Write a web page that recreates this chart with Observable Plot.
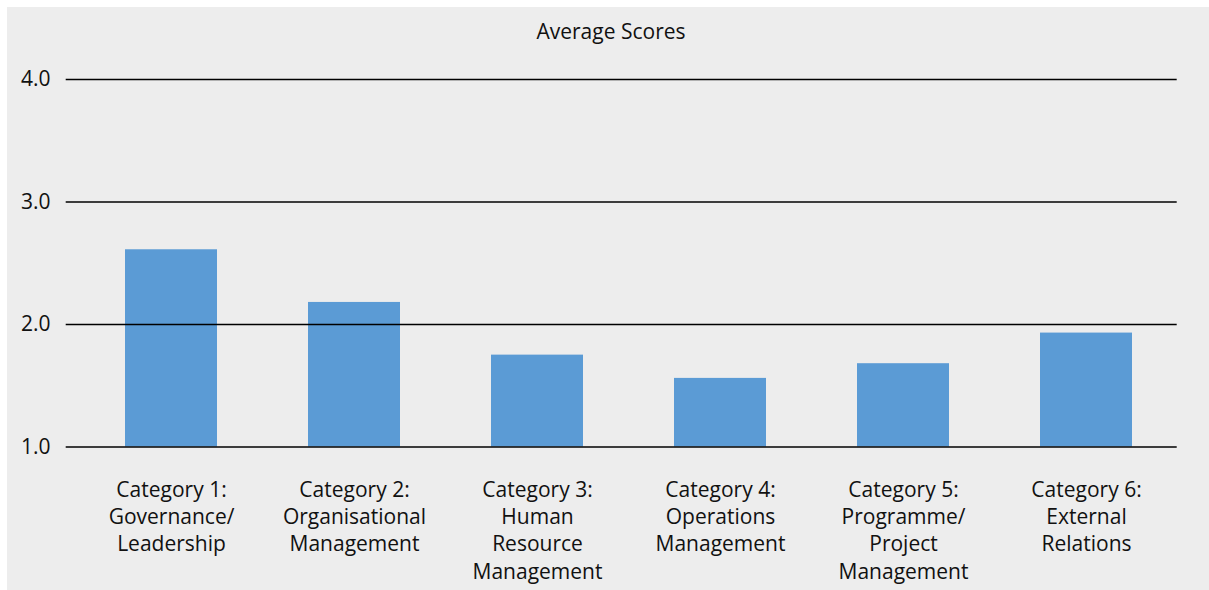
<!DOCTYPE html>
<html>
<head>
<meta charset="utf-8">
<script src="https://cdn.jsdelivr.net/npm/d3@7"></script>
<script src="https://cdn.jsdelivr.net/npm/@observablehq/plot@0.6"></script>
<style>
  html, body { margin: 0; padding: 0; background: #ffffff; }
  #frame {
    position: absolute; left: 7px; top: 7px;
    width: 1202px; height: 583px;
    background: #ededed;
    font-family: "Open Sans", sans-serif;
    overflow: hidden;
  }
  #title {
    box-sizing: border-box;
    height: 43px;
    padding-top: 14px;
    font-size: 21px;
    line-height: 21px;
    text-align: center;
    color: #111;
    padding-left: 6px;
  }
  #chart svg { display: block; }
</style>
</head>
<body>
<div id="frame">
  <div id="title">Average Scores</div>
  <div id="chart"></div>
</div>
<script>
const categories = [
  "Category 1:\nGovernance/\nLeadership",
  "Category 2:\nOrganisational\nManagement",
  "Category 3:\nHuman\nResource\nManagement",
  "Category 4:\nOperations\nManagement",
  "Category 5:\nProgramme/\nProject\nManagement",
  "Category 6:\nExternal\nRelations"
];
const scores = [2.61, 2.18, 1.75, 1.56, 1.68, 1.93];
const yTicks = [1, 2, 3, 4];

const data = categories.map((c, i) => ({category: c, score: scores[i]}));

const chart = Plot.plot({
  width: 1202,
  height: 540,
  marginTop: 29,
  marginBottom: 143.5,
  marginLeft: 71.35,
  marginRight: 30.65,
  style: {background: "transparent", fontFamily: "Open Sans, sans-serif", color: "#111"},
  x: {domain: categories, paddingInner: 0.5, paddingOuter: 0.25, label: null},
  y: {domain: [1, 4], label: null},
  marks: [
    Plot.barY(data, {x: "category", y1: 1, y2: "score", fill: "#5b9bd5"}),
    Plot.ruleY(yTicks, {stroke: "#000", strokeWidth: 1.6, insetLeft: -12.65, insetRight: 1.65}),
    Plot.axisY({ticks: yTicks, tickFormat: d3.format(".1f"), tickSize: 0, tickPadding: 28.35, fontSize: 21, label: null}),
    Plot.axisX({tickSize: 0, tickPadding: 31, fontSize: 21, lineHeight: 1.29, label: null})
  ]
});
document.getElementById("chart").appendChild(chart);
</script>
</body>
</html>
